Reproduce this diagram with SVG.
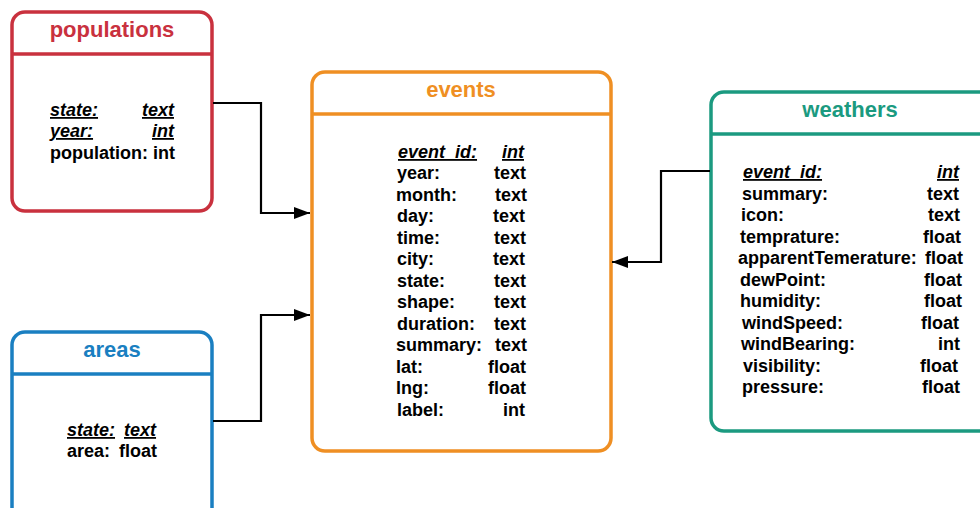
<svg xmlns="http://www.w3.org/2000/svg" width="980" height="508" viewBox="0 0 980 508">
<defs>
<marker id="arr" viewBox="0 0 16 12" refX="16" refY="6" markerWidth="16" markerHeight="12" markerUnits="userSpaceOnUse" orient="auto">
<path d="M0,0 L16,6 L0,12 Z" fill="#000"/>
</marker>
</defs>
<style>
.box{fill:#fff;stroke-width:3.5}
.div{stroke-width:3.5}
.title{font-family:"Liberation Sans",Arial,sans-serif;font-weight:bold;font-size:22px;text-anchor:middle}
.f{font-family:"Liberation Sans",Arial,sans-serif;font-weight:bold;font-size:18px;fill:#000}
.r{text-anchor:end}
.k{font-style:italic;text-decoration:underline}
.conn{fill:none;stroke:#000;stroke-width:2.2}
</style>
<rect width="980" height="508" fill="#fff"/>

<g id="populations">
<rect class="box" x="12" y="12" width="200" height="199" rx="13" stroke="#c9313e"/>
<line class="div" x1="12" y1="54" x2="212" y2="54" stroke="#c9313e"/>
<text class="title" x="112" y="37" fill="#c9313e">populations</text>
<text class="f k" x="50" y="116">state:</text>
<text class="f k r" x="174" y="116">text</text>
<text class="f k" x="50" y="137">year:</text>
<text class="f k r" x="174" y="137">int</text>
<text class="f" x="50" y="159">population: int</text>
</g>

<g id="areas">
<rect class="box" x="12" y="332" width="200" height="200" rx="13" stroke="#1a7fc1"/>
<line class="div" x1="12" y1="374" x2="212" y2="374" stroke="#1a7fc1"/>
<text class="title" x="112" y="357" fill="#1a7fc1">areas</text>
<text class="f" x="67" y="436"><tspan class="k">state:</tspan> <tspan dx="4" class="k">text</tspan></text>
<text class="f" x="67" y="457">area:  <tspan dx="4">float</tspan></text>
</g>

<g id="events">
<rect class="box" x="312" y="72" width="299" height="379" rx="13" stroke="#ef8f23"/>
<line class="div" x1="312" y1="114" x2="611" y2="114" stroke="#ef8f23"/>
<text class="title" x="461" y="97" fill="#ef8f23">events</text>
<text class="f k" x="398" y="158">event_id:</text>
<text class="f k r" x="524" y="158">int</text>
<text class="f" x="397" y="179">year:</text><text class="f r" x="526" y="179">text</text>
<text class="f" x="396" y="200.5">month:</text><text class="f r" x="527" y="200.5">text</text>
<text class="f" x="397" y="222">day:</text><text class="f r" x="525" y="222">text</text>
<text class="f" x="397" y="243.5">time:</text><text class="f r" x="526" y="243.5">text</text>
<text class="f" x="397" y="265">city:</text><text class="f r" x="525" y="265">text</text>
<text class="f" x="397" y="286.5">state:</text><text class="f r" x="526" y="286.5">text</text>
<text class="f" x="397" y="308">shape:</text><text class="f r" x="526" y="308">text</text>
<text class="f" x="397" y="329.5">duration:</text><text class="f r" x="526" y="329.5">text</text>
<text class="f" x="396" y="351">summary:</text><text class="f r" x="527" y="351">text</text>
<text class="f" x="396" y="372.5">lat:</text><text class="f r" x="526" y="372.5">float</text>
<text class="f" x="396" y="394">lng:</text><text class="f r" x="526" y="394">float</text>
<text class="f" x="397" y="415.5">label:</text><text class="f r" x="525" y="415.5">int</text>
</g>

<g id="weathers">
<rect class="box" x="711" y="92" width="300" height="339" rx="13" stroke="#1b9a80"/>
<line class="div" x1="711" y1="134" x2="1011" y2="134" stroke="#1b9a80"/>
<text class="title" x="850" y="117" fill="#1b9a80">weathers</text>
<text class="f k" x="743" y="178">event_id:</text>
<text class="f k r" x="959" y="178">int</text>
<text class="f" x="742" y="199.5">summary:</text><text class="f r" x="959" y="199.5">text</text>
<text class="f" x="741" y="221">icon:</text><text class="f r" x="960" y="221">text</text>
<text class="f" x="740" y="242.5">temprature:</text><text class="f r" x="961" y="242.5">float</text>
<text class="f" x="738" y="264">apparentTemerature:</text><text class="f r" x="963" y="264">float</text>
<text class="f" x="740" y="285.5">dewPoint:</text><text class="f r" x="962" y="285.5">float</text>
<text class="f" x="740" y="307">humidity:</text><text class="f r" x="962" y="307">float</text>
<text class="f" x="742" y="328.5">windSpeed:</text><text class="f r" x="959" y="328.5">float</text>
<text class="f" x="741" y="350">windBearing:</text><text class="f r" x="960" y="350">int</text>
<text class="f" x="743" y="371.5">visibility:</text><text class="f r" x="958" y="371.5">float</text>
<text class="f" x="742" y="393">pressure:</text><text class="f r" x="960" y="393">float</text>
</g>

<g id="connectors">
<polyline class="conn" points="213,103 261,103 261,213 310,213" marker-end="url(#arr)"/>
<polyline class="conn" points="213,421 261,421 261,315 310,315" marker-end="url(#arr)"/>
<polyline class="conn" points="710,171 661,171 661,262 612,262" marker-end="url(#arr)"/>
</g>
</svg>
